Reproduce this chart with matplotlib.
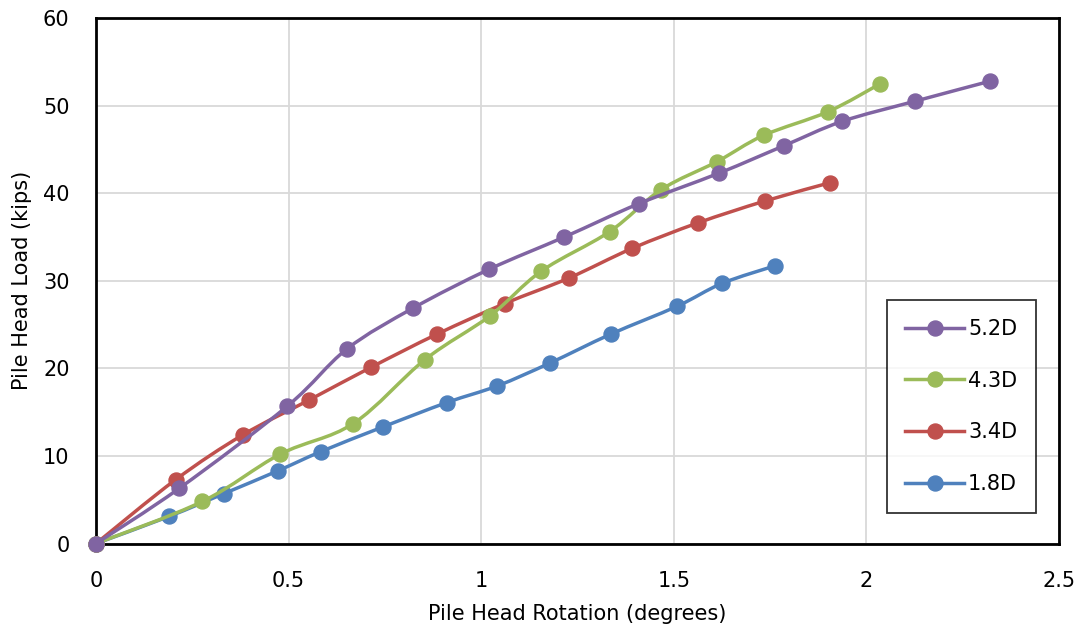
import numpy as np
import matplotlib
matplotlib.use("Agg")
import matplotlib.pyplot as plt
from matplotlib.path import Path
from matplotlib.patches import PathPatch
from matplotlib.lines import Line2D

plt.rcParams['font.family'] = ['DejaVu Sans']

labels = ["5.2D", "4.3D", "3.4D", "1.8D"]
colors = ["#8064A2", "#9BBB59", "#C0504D", "#4F81BD"]

rot_52 = [0, 0.216, 0.497, 0.651, 0.824, 1.020, 1.216, 1.409, 1.618, 1.785, 1.937, 2.126, 2.322]
load_52 = [0, 6.3, 15.7, 22.2, 26.9, 31.3, 35.0, 38.8, 42.3, 45.4, 48.2, 50.5, 52.8]

rot_43 = [0, 0.276, 0.478, 0.668, 0.854, 1.023, 1.156, 1.333, 1.467, 1.612, 1.733, 1.900, 2.036]
load_43 = [0, 4.8, 10.2, 13.7, 21.0, 26.0, 31.1, 35.6, 40.4, 43.6, 46.6, 49.3, 52.5]

rot_34 = [0, 0.207, 0.381, 0.554, 0.713, 0.885, 1.061, 1.227, 1.392, 1.562, 1.736, 1.906]
load_34 = [0, 7.3, 12.4, 16.4, 20.1, 23.9, 27.4, 30.3, 33.7, 36.6, 39.1, 41.2]

rot_18 = [0, 0.190, 0.332, 0.472, 0.584, 0.744, 0.911, 1.042, 1.178, 1.336, 1.509, 1.625, 1.762]
load_18 = [0, 3.1, 5.7, 8.3, 10.5, 13.3, 16.1, 18.0, 20.6, 23.9, 27.1, 29.7, 31.7]

series = [(rot_52, load_52), (rot_43, load_43), (rot_34, load_34), (rot_18, load_18)]

x_ticks = [0, 0.5, 1, 1.5, 2, 2.5]
x_tick_labels = ["0", "0.5", "1", "1.5", "2", "2.5"]
y_ticks = [0, 10, 20, 30, 40, 50, 60]


def smooth_path(x, y):
    x = np.asarray(x, float)
    y = np.asarray(y, float)
    n = len(x)
    verts = [(x[0], y[0])]
    codes = [Path.MOVETO]
    for i in range(n - 1):
        p0 = np.array([x[max(i - 1, 0)], y[max(i - 1, 0)]])
        p1 = np.array([x[i], y[i]])
        p2 = np.array([x[i + 1], y[i + 1]])
        p3 = np.array([x[min(i + 2, n - 1)], y[min(i + 2, n - 1)]])
        c1 = p1 + (p2 - p0) / 6.0
        c2 = p2 - (p3 - p1) / 6.0
        verts += [tuple(c1), tuple(c2), tuple(p2)]
        codes += [Path.CURVE4] * 3
    return Path(verts, codes)


fig = plt.figure(figsize=(10.8, 6.34), dpi=100)
ax = fig.add_axes([0.0889, 0.1427, 0.8917, 0.8289])

order = [3, 2, 1, 0]
for i in order:
    xs, ys = series[i]
    patch = PathPatch(smooth_path(xs, ys), facecolor='none', edgecolor=colors[i],
                      lw=2.5, capstyle='round', joinstyle='round', zorder=3 + (3 - i))
    ax.add_patch(patch)
    ax.plot(xs, ys, linestyle='none', marker='o', markersize=10.8,
            color=colors[i], zorder=3.5 + (3 - i), clip_on=False)

ax.set_xlim(0, 2.5)
ax.set_ylim(0, 60)
ax.set_xticks(x_ticks)
ax.set_xticklabels(x_tick_labels)
ax.set_yticks(y_ticks)
ax.grid(True, color='#D9D9D9', lw=1.3)
ax.set_axisbelow(True)
for s in ax.spines.values():
    s.set_color('black')
    s.set_linewidth(2.0)
ax.tick_params(axis='x', length=0, labelsize=15, pad=20)
ax.tick_params(axis='y', length=0, labelsize=15, pad=19)
ax.set_xlabel("Pile Head Rotation (degrees)", fontsize=15, labelpad=9)
ax.set_ylabel("Pile Head Load (kips)", fontsize=15, labelpad=8)

handles = [Line2D([0], [0], color=c, lw=2.5, marker='o', markersize=10.8) for c in colors]
leg = ax.legend(handles, labels, loc='upper left', bbox_to_anchor=(0.821, 0.463),
                fontsize=15, frameon=True, fancybox=False, edgecolor='black',
                labelspacing=1.52, handlelength=2.8, handletextpad=0.2,
                borderpad=0.9, borderaxespad=0)
leg.get_frame().set_linewidth(1.3)

fig.savefig("out.png", dpi=100, facecolor='white')
